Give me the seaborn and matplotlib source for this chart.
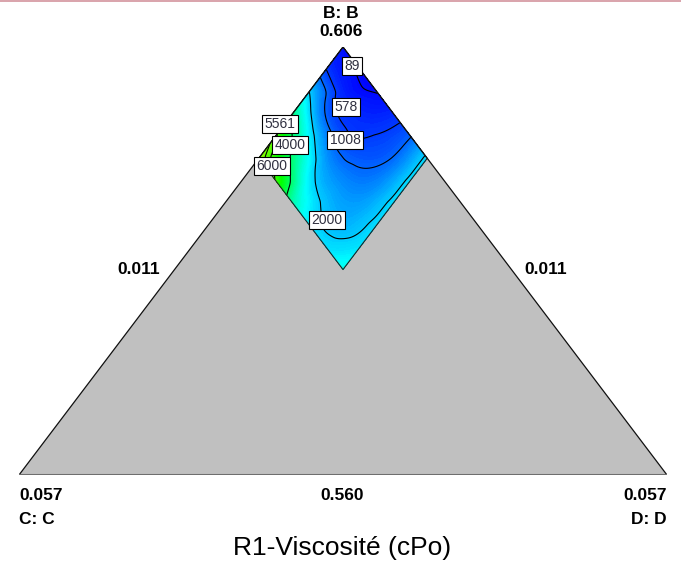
import numpy as np
import matplotlib
matplotlib.use("Agg")
import matplotlib.pyplot as plt
import matplotlib.tri as mtri
from matplotlib.colors import Normalize
from matplotlib.lines import Line2D
import seaborn as sns

sns.set_style("white")
plt.rcParams["font.family"] = ["Liberation Sans", "DejaVu Sans"]

# Upper limits of C and D on the pseudo-component scale
c_max = 0.26
d_max = 0.26

# Grid fractions of those limits
c_frac = [0.0, 0.2, 0.4, 0.6, 0.8, 1.0]
d_frac = [0.0, 0.2, 0.4, 0.6, 0.8, 1.0]

# Predicted viscosity (cPo); one list per C fraction, entries follow d_frac
visc_c00 = [150, 25, 70, 400, 970, 2150]
visc_c02 = [578, 350, 380, 600, 1050, 2150]
visc_c04 = [2000, 950, 700, 870, 1280, 2150]
visc_c06 = [3700, 2350, 1470, 1350, 1550, 2150]
visc_c08 = [5700, 3800, 2300, 1850, 1780, 2250]
visc_c10 = [6500, 5500, 3300, 2300, 2200, 2700]

# Contour levels that carry labels
contour_levels = [89, 578, 1008, 2000, 4000, 5561, 6000]

# Vertex / bound labels
top_name, top_value = "B: B", "0.606"
left_name, left_value = "C: C", "0.057"
right_name, right_value = "D: D", "0.057"
side_value = "0.011"
base_value = "0.560"
title = "R1-Viscosité (cPo)"

W, H = 681, 563
fig = plt.figure(figsize=(W / 100, H / 100), dpi=100)
ax = fig.add_axes([19 / W, (H - 475) / H, 648 / W, 428 / H])
ax.set_xlim(0, 1)
ax.set_ylim(0, 1)
ax.axis("off")


def to_xy(c, d):
    b = 1.0 - c - d
    return d + 0.5 * b, b


# Grey simplex (B top, C bottom-left, D bottom-right)
ax.fill([0, 1, 0.5], [0, 0, 1], color="#c0c0c0", zorder=1, lw=0)

# Response surface over the feasible region
visc = np.array([visc_c00, visc_c02, visc_c04, visc_c06, visc_c08, visc_c10], float)
cc, dd = np.meshgrid(np.array(c_frac) * c_max, np.array(d_frac) * d_max, indexing="ij")
px, py = to_xy(cc.ravel(), dd.ravel())
tri = mtri.Triangulation(px, py)
interp = mtri.CubicTriInterpolator(tri, visc.ravel(), kind="geom")
refiner = mtri.UniformTriRefiner(tri)
tri_r, z_r = refiner.refine_field(visc.ravel(), triinterpolator=interp, subdiv=4)

cmap = sns.blend_palette(["#0000ff", "#00ffff", "#00ff00", "#ffff00", "#ff0000"], as_cmap=True)
norm = Normalize(0, 10000)
fill_levels = np.linspace(z_r.min() - 1, z_r.max() + 1, 120)
ax.tricontourf(tri_r, z_r, levels=fill_levels, cmap=cmap, norm=norm, zorder=2)
ax.tricontour(tri_r, z_r, levels=contour_levels, colors="black", linewidths=0.8, zorder=3)

# Outline of the feasible region
corners = [to_xy(0, 0), to_xy(c_max, 0), to_xy(c_max, d_max), to_xy(0, d_max), to_xy(0, 0)]
ax.plot([p[0] for p in corners], [p[1] for p in corners], color="#202020", lw=0.8, zorder=4)

# Simplex edges
ax.plot([0, 0.5, 1], [0, 1, 0], color="#101010", lw=0.9, zorder=5)
ax.plot([0, 1], [0, 0], color="#6e6e6e", lw=2.2, zorder=5)

# Contour labels (pixel centres)
label_pos = {89: (352, 66), 578: (346, 107), 1008: (345, 140), 2000: (327, 220),
             4000: (290, 145), 5561: (280, 124), 6000: (272, 166)}
for lev in contour_levels:
    x_px, y_px = label_pos[lev]
    ax.text((x_px - 19) / 648, (475 - y_px) / 428, f"{lev}", ha="center", va="center",
            fontsize=10, color="#303040", zorder=6,
            bbox=dict(boxstyle="square,pad=0.15", fc="white", ec="black", lw=0.8))


def ftext(x, y, s, **kw):
    fig.text(x / W, 1 - y / H, s, **kw)


bold = dict(fontsize=12.5, fontweight="bold", color="black", va="center")
ftext(341, 14, top_name, ha="center", **bold)
ftext(341, 32, top_value, ha="center", **bold)
ftext(139, 270, side_value, ha="center", **bold)
ftext(546, 270, side_value, ha="center", **bold)
ftext(19, 495, left_value, ha="left", **bold)
ftext(19, 520, left_name, ha="left", **bold)
ftext(342, 495, base_value, ha="center", **bold)
ftext(667, 495, right_value, ha="right", **bold)
ftext(667, 520, right_name, ha="right", **bold)
ftext(342, 548, title, ha="center", va="center", fontsize=19, color="black")

fig.add_artist(Line2D([0, 1], [1 - 0.8 / H, 1 - 0.8 / H], transform=fig.transFigure,
                      color="#d9a3ab", lw=1.4))

fig.savefig("out.png", dpi=100)
